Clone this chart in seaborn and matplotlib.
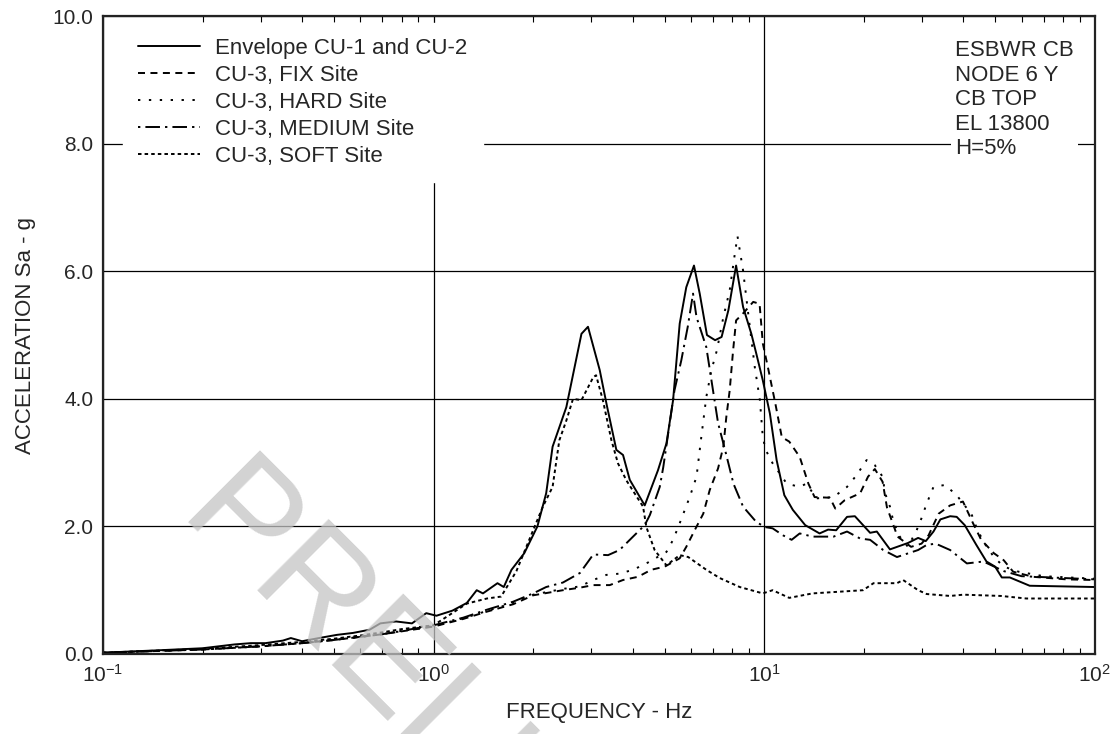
import numpy as np
import pandas as pd
import matplotlib
matplotlib.use("Agg")
import matplotlib.pyplot as plt
import seaborn as sns
from matplotlib.ticker import LogLocator, NullFormatter

# ---- data (frequency in Hz, spectral acceleration in g) ----
env_f = [0.10, 0.15, 0.20, 0.25, 0.28, 0.31, 0.35, 0.37, 0.40, 0.45, 0.51, 0.57, 0.64, 0.69,
         0.77, 0.86, 0.95, 1.02, 1.14, 1.26, 1.35, 1.41, 1.56, 1.63, 1.72, 1.88, 2.06, 2.19,
         2.29, 2.52, 2.80, 2.93, 3.18, 3.34, 3.57, 3.74, 3.92, 4.35, 4.77, 5.06, 5.30, 5.55,
         5.81, 6.13, 6.38, 6.71, 7.10, 7.43, 7.79, 8.22, 8.63, 9.14, 9.46, 9.90, 10.4, 10.9,
         11.5, 12.2, 13.3, 14.7, 15.6, 16.5, 17.8, 18.8, 20.9, 21.9, 24.0, 27.2, 29.2, 30.8,
         32.5, 34.1, 36.5, 38.2, 40.4, 43.8, 47.0, 49.9, 52.3, 55.3, 63.5, 100.0]
env_a = [0.02, 0.06, 0.09, 0.15, 0.17, 0.17, 0.21, 0.25, 0.20, 0.25, 0.30, 0.33, 0.38, 0.48,
         0.51, 0.48, 0.64, 0.60, 0.68, 0.80, 1.00, 0.95, 1.11, 1.05, 1.32, 1.58, 2.00, 2.52,
         3.25, 3.87, 5.02, 5.13, 4.45, 3.90, 3.20, 3.12, 2.73, 2.33, 2.88, 3.30, 3.98, 5.18,
         5.75, 6.09, 5.65, 5.00, 4.92, 4.97, 5.39, 6.09, 5.44, 5.02, 4.71, 4.29, 3.77, 3.04,
         2.49, 2.26, 2.02, 1.89, 1.95, 1.94, 2.15, 2.16, 1.90, 1.92, 1.64, 1.74, 1.82, 1.77,
         1.92, 2.11, 2.16, 2.15, 2.02, 1.71, 1.45, 1.37, 1.20, 1.20, 1.07, 1.05]

fix_f = [0.10, 0.20, 0.30, 0.40, 0.50, 0.70, 1.00, 1.23, 1.44, 1.74, 2.00, 2.46, 2.77, 3.04,
         3.41, 3.74, 4.15, 4.55, 5.00, 5.55, 5.81, 6.16, 6.54, 6.84, 7.25, 7.52, 7.68, 7.86,
         8.05, 8.22, 8.63, 9.26, 9.68, 9.90, 10.3, 10.8, 11.3, 11.9, 12.8, 13.6, 14.2, 15.8,
         16.4, 17.5, 19.5, 20.6, 21.6, 22.8, 23.5, 25.3, 27.8, 29.9, 31.4, 33.7, 36.5, 39.9,
         42.8, 45.3, 49.5, 53.0, 56.6, 65.0, 82.0, 100.0]
fix_a = [0.02, 0.07, 0.12, 0.17, 0.22, 0.31, 0.43, 0.55, 0.66, 0.78, 0.92, 1.00, 1.04, 1.08,
         1.08, 1.16, 1.21, 1.32, 1.37, 1.50, 1.68, 1.94, 2.20, 2.57, 2.91, 3.25, 3.72, 4.13,
         4.76, 5.23, 5.34, 5.52, 5.49, 4.87, 4.45, 3.93, 3.40, 3.33, 3.09, 2.67, 2.46, 2.45,
         2.28, 2.41, 2.52, 2.78, 2.90, 2.70, 2.30, 1.84, 1.68, 1.73, 1.86, 2.20, 2.33, 2.39,
         2.05, 1.79, 1.58, 1.47, 1.29, 1.21, 1.17, 1.16]

hard_f = [0.10, 0.20, 0.30, 0.40, 0.50, 0.70, 1.00, 1.23, 1.44, 1.74, 2.00, 2.46, 2.77, 3.04,
          3.33, 3.65, 4.01, 4.40, 5.06, 5.30, 5.55, 5.95, 6.24, 6.45, 6.68, 6.92, 7.19, 7.52,
          7.86, 8.15, 8.30, 8.63, 8.97, 9.36, 9.70, 9.90, 10.1, 10.6, 11.7, 12.8, 13.4, 14.4,
          16.2, 17.8, 19.0, 20.4, 21.6, 22.8, 23.2, 24.0, 24.6, 25.7, 27.2, 28.9, 29.9, 31.0,
          32.5, 35.2, 38.2, 39.9, 42.3, 43.8, 46.0, 49.5, 53.0, 58.8, 70.0, 100.0]
hard_a = [0.02, 0.07, 0.12, 0.17, 0.22, 0.31, 0.44, 0.56, 0.67, 0.80, 0.93, 1.02, 1.06, 1.16,
          1.24, 1.26, 1.32, 1.42, 1.60, 1.79, 2.05, 2.46, 2.78, 3.40, 4.03, 4.45, 4.76, 5.28,
          5.70, 6.28, 6.55, 6.01, 5.28, 4.50, 3.98, 3.40, 3.20, 2.99, 2.67, 2.62, 2.67, 2.44,
          2.46, 2.62, 2.80, 3.04, 2.96, 2.78, 2.52, 2.31, 2.07, 1.84, 1.68, 1.94, 2.13, 2.36,
          2.62, 2.65, 2.49, 2.36, 2.20, 1.99, 1.76, 1.52, 1.37, 1.29, 1.22, 1.18]

med_f = [0.10, 0.20, 0.30, 0.40, 0.50, 0.70, 1.00, 1.23, 1.44, 1.74, 2.00, 2.19, 2.46, 2.77,
         3.04, 3.37, 3.65, 4.01, 4.35, 4.51, 4.83, 4.95, 5.35, 5.61, 5.87, 6.09, 6.24, 6.68,
         7.00, 7.25, 7.61, 8.07, 8.63, 9.46, 10.05, 10.6, 11.4, 12.1, 12.8, 14.0, 16.2, 17.8,
         19.5, 20.9, 22.9, 25.2, 29.2, 31.0, 33.0, 36.5, 41.0, 46.0, 53.0, 60.0, 100.0]
med_a = [0.02, 0.07, 0.12, 0.17, 0.22, 0.31, 0.45, 0.57, 0.69, 0.82, 0.95, 1.05, 1.12, 1.27,
         1.56, 1.55, 1.63, 1.84, 2.02, 2.18, 2.62, 2.93, 4.13, 4.60, 5.13, 5.65, 5.28, 4.81,
         4.13, 3.62, 3.20, 2.67, 2.31, 2.07, 1.99, 1.97, 1.86, 1.79, 1.89, 1.84, 1.84, 1.92,
         1.81, 1.79, 1.63, 1.52, 1.63, 1.71, 1.73, 1.63, 1.42, 1.45, 1.30, 1.22, 1.17]

soft_f = [0.10, 0.20, 0.30, 0.40, 0.50, 0.60, 0.70, 0.80, 1.00, 1.26, 1.45, 1.60, 1.78, 2.00,
          2.14, 2.29, 2.40, 2.52, 2.64, 2.80, 3.04, 3.10, 3.25, 3.45, 3.61, 3.83, 4.30, 4.40,
          4.66, 5.06, 5.55, 5.89, 6.68, 7.34, 8.43, 9.90, 10.6, 11.9, 14.0, 19.9, 21.4, 25.2,
          26.3, 29.2, 31.0, 36.5, 40.0, 52.0, 62.0, 100.0]
soft_a = [0.02, 0.08, 0.14, 0.19, 0.24, 0.29, 0.34, 0.39, 0.45, 0.79, 0.87, 0.90, 1.30, 1.94,
          2.31, 2.62, 3.35, 3.66, 4.00, 3.98, 4.34, 4.37, 3.98, 3.35, 2.99, 2.72, 2.31, 1.99,
          1.63, 1.39, 1.55, 1.52, 1.32, 1.19, 1.05, 0.95, 1.00, 0.88, 0.95, 1.00, 1.11, 1.11,
          1.16, 1.00, 0.94, 0.91, 0.93, 0.91, 0.87, 0.87]

labels = ["Envelope CU-1 and CU-2", "CU-3, FIX Site", "CU-3, HARD Site",
          "CU-3, MEDIUM Site", "CU-3, SOFT Site"]
y_ticks = [0.0, 2.0, 4.0, 6.0, 8.0, 10.0]
info_lines = ["ESBWR CB", "NODE 6 Y", "CB TOP", "EL 13800", "H=5%"]

series = [(env_f, env_a), (fix_f, fix_a), (hard_f, hard_a), (med_f, med_a), (soft_f, soft_a)]
styles = ["-", (0, (3.6, 2.8)), (0, (1.2, 4.4)), (0, (1.2, 2.6, 7.5, 2.6)), (0, (1.8, 1.6))]

sns.set_theme(style="white")
plt.rcParams["font.family"] = ["Liberation Sans", "DejaVu Sans"]
plt.rcParams["mathtext.fontset"] = "custom"
plt.rcParams["mathtext.rm"] = "Liberation Sans"
plt.rcParams["mathtext.it"] = "Liberation Sans:italic"
FS = 16      # legend, note box, axis titles
TFS = 15     # tick labels

fig = plt.figure(figsize=(11.17, 7.34), dpi=100)
ax = fig.add_axes([0.0922, 0.109, 0.888, 0.869])

for (f, a), name, ls in zip(series, labels, styles):
    df = pd.DataFrame({"freq": f, "acc": a})
    sns.lineplot(data=df, x="freq", y="acc", ax=ax, color="black", lw=1.4,
                 linestyle=ls, label=name, estimator=None, sort=False)

ax.set_xscale("log")
ax.set_xlim(0.1, 100)
ax.set_ylim(0, 10)
ax.set_yticks(y_ticks)
ax.set_yticklabels([f"{v:.1f}" for v in y_ticks], fontsize=TFS)
ax.xaxis.set_major_locator(LogLocator(base=10, numticks=10))
ax.xaxis.set_minor_locator(LogLocator(base=10, subs=np.arange(2, 10), numticks=20))
ax.xaxis.set_minor_formatter(NullFormatter())
ax.tick_params(axis="x", which="major", labelsize=TFS, direction="in", pad=7,
               top=True, length=0)
ax.tick_params(axis="x", which="minor", direction="in", top=True, bottom=True,
               length=4, width=0.8, color="black")
ax.tick_params(axis="y", which="major", direction="in", length=0, pad=7)

ax.grid(True, which="major", color="black", lw=0.9)
ax.grid(False, which="minor")
for sp in ax.spines.values():
    sp.set_color("#222222")
    sp.set_linewidth(1.6)

ax.set_xlabel("FREQUENCY - Hz", fontsize=FS, labelpad=12)
ax.set_ylabel("ACCELERATION Sa - g", fontsize=FS, labelpad=12)

leg = ax.legend(loc="upper left", bbox_to_anchor=(0.02, 0.99), borderaxespad=0,
                fontsize=FS, frameon=True, fancybox=False, framealpha=1,
                facecolor="white", edgecolor="white", handlelength=2.8,
                handletextpad=0.68, labelspacing=0.27, borderpad=0.68)
for line in leg.get_lines():
    line.set_linewidth(1.4)

ax.text(0.859, 0.962, "\n".join(info_lines), transform=ax.transAxes, ha="left", va="top",
        fontsize=FS, linespacing=1.22, zorder=6,
        bbox=dict(facecolor="white", edgecolor="none", pad=3))

fig.text(0.157, 0.289, "PRELIMINARY", rotation=-45, rotation_mode="anchor",
         ha="left", va="baseline", fontsize=105, color="#c4c4c4", alpha=0.75, zorder=10)

fig.savefig("out.png", dpi=100)
